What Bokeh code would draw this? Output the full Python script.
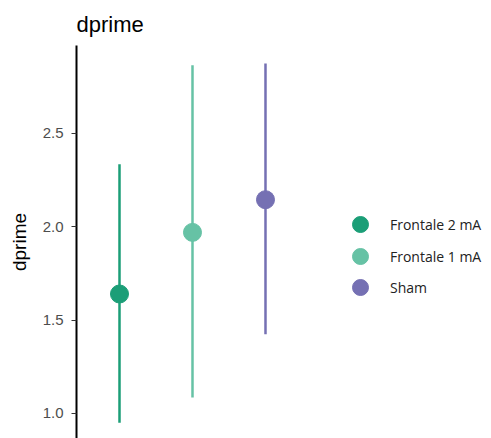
from bokeh.plotting import figure
from bokeh.models import Range1d, FixedTicker, Legend, LegendItem, ColumnDataSource
from bokeh.embed import file_html
from bokeh.resources import INLINE

groups = ["Frontale 2 mA", "Frontale 1 mA", "Sham"]
x_pos = [1, 2, 3]
mean = [1.64, 1.97, 2.145]
lower = [0.95, 1.085, 1.425]
upper = [2.335, 2.865, 2.875]
colors = ["#1b9e77", "#66c2a5", "#7570b3"]
tick_values = [1.0, 1.5, 2.0, 2.5]
tick_labels = ["1.0", "1.5", "2.0", "2.5"]
legend_bottoms = [194, 162, 131]

p = figure(width=491, height=438, output_backend="svg", toolbar_location=None,
           x_range=Range1d(0.411, 6.096), y_range=Range1d(0.866, 2.971),
           min_border_left=76, min_border_right=0, min_border_top=45, min_border_bottom=0)
p.title.text = "dprime"
p.title.text_font = "Liberation Sans"
p.title.text_font_size = "22px"
p.title.text_font_style = "normal"
p.title.text_color = "#000000"
p.title.offset = 0
p.title.standoff = 17

p.outline_line_color = None
p.xgrid.visible = False
p.ygrid.visible = False
p.xaxis.visible = False

ax = p.yaxis[0]
ax.ticker = FixedTicker(ticks=tick_values)
ax.major_label_overrides = {v: l for v, l in zip(tick_values, tick_labels)}
ax.axis_line_color = "#000000"
ax.axis_line_width = 2
ax.major_tick_in = 0
ax.major_tick_out = 5
ax.major_tick_line_color = "#333333"
ax.minor_tick_line_color = None
ax.major_label_text_color = "#4d4d4d"
ax.major_label_text_font = "Liberation Sans"
ax.major_label_text_font_size = "15px"
ax.major_label_standoff = 8
ax.axis_label = "dprime"
ax.axis_label_text_font = "Liberation Sans"
ax.axis_label_text_font_size = "19px"
ax.axis_label_text_font_style = "normal"
ax.axis_label_text_color = "#000000"
ax.axis_label_standoff = 10

for i in range(3):
    src = ColumnDataSource(dict(x=[x_pos[i]], m=[mean[i]], lo=[lower[i]], hi=[upper[i]]))
    p.segment(x0="x", y0="lo", x1="x", y1="hi", source=src, line_color=colors[i], line_width=2.5)
    c = p.scatter(x="x", y="m", source=src, marker="circle", size=18,
                  fill_color=colors[i], line_color=colors[i])
    legend = Legend(items=[LegendItem(label=groups[i], renderers=[c])],
                    location=(264, legend_bottoms[i]), padding=0, margin=0,
                    glyph_width=40, glyph_height=40, label_standoff=10,
                    border_line_color=None, background_fill_alpha=0,
                    label_text_font="Open Sans", label_text_font_size="14px",
                    label_text_color="#222222")
    p.add_layout(legend, "center")

open("out.html", "w").write(file_html(p, INLINE))
